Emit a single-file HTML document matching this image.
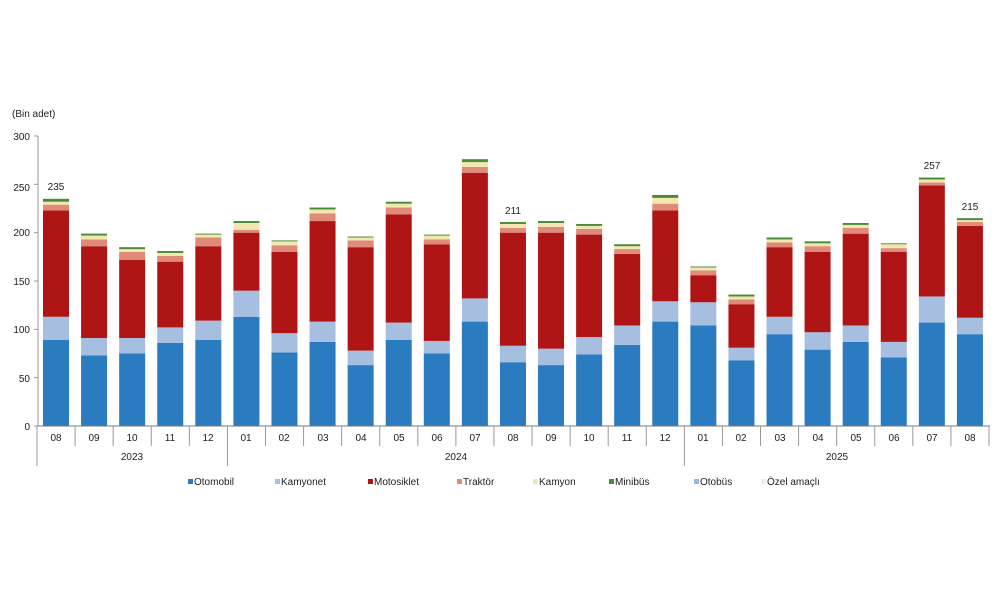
<!DOCTYPE html>
<html><head><meta charset="utf-8"><style>
body{margin:0;background:#fff;}
svg text{font-family:"Liberation Sans",sans-serif;fill:#222;}
</style></head><body>
<svg id="c" width="1000" height="593" xmlns="http://www.w3.org/2000/svg">
<text x="12" y="117" font-size="10">(Bin adet)</text>
<g font-size="10" text-anchor="end">
<text x="30" y="140">300</text><text x="30" y="191">250</text><text x="30" y="236">200</text>
<text x="30" y="285">150</text><text x="30" y="333">100</text><text x="30" y="382">50</text><text x="30" y="430">0</text>
</g>
<g id="bars"></g>
<line x1="38" y1="136" x2="38" y2="426" stroke="#999"/>
<line x1="38" y1="426" x2="990" y2="426" stroke="#777"/>
<g id="ticks" stroke="#999"></g>
<g font-size="10" text-anchor="middle">
<text x="56" y="441">08</text><text x="94" y="441">09</text><text x="132" y="441">10</text><text x="170" y="441">11</text><text x="208" y="441">12</text>
<text x="246" y="441">01</text><text x="284" y="441">02</text><text x="323" y="441">03</text><text x="361" y="441">04</text><text x="399" y="441">05</text>
<text x="437" y="441">06</text><text x="475" y="441">07</text><text x="513" y="441">08</text><text x="551" y="441">09</text><text x="589" y="441">10</text>
<text x="627" y="441">11</text><text x="665" y="441">12</text><text x="703" y="441">01</text><text x="741" y="441">02</text><text x="780" y="441">03</text>
<text x="818" y="441">04</text><text x="856" y="441">05</text><text x="894" y="441">06</text><text x="932" y="441">07</text><text x="970" y="441">08</text>
<text x="132" y="460">2023</text><text x="456" y="460">2024</text><text x="837" y="460">2025</text>
<text x="56" y="190">235</text><text x="513" y="214">211</text><text x="932" y="169">257</text><text x="970" y="210">215</text>
</g>
<g font-size="10">
<rect x="188" y="479" width="5" height="5" fill="#2a7bc0"/><text x="194" y="485">Otomobil</text>
<rect x="275" y="479" width="5" height="5" fill="#a6bfe0"/><text x="281" y="485">Kamyonet</text>
<rect x="368" y="479" width="5" height="5" fill="#b01515"/><text x="374" y="485">Motosiklet</text>
<rect x="457" y="479" width="5" height="5" fill="#e08a7a"/><text x="463" y="485">Traktör</text>
<rect x="533" y="479" width="5" height="5" fill="#f3e7b0"/><text x="539" y="485">Kamyon</text>
<rect x="609" y="479" width="5" height="5" fill="#4a8a3a"/><text x="615" y="485">Minibüs</text>
<rect x="694" y="479" width="5" height="5" fill="#9db8d8"/><text x="700" y="485">Otobüs</text>
<rect x="761" y="479" width="5" height="5" fill="#eee"/><text x="767" y="485">Özel amaçlı</text>
</g>
</svg>
<script>
var d=[[89,113,223,229,232,235],[73,91,186,193,197,199],[75,91,172,180,183,185],[86,102,170,176,179,181],[89,109,186,195,198,199],
[113,140,200,203,210,212],[76,96,180,187,191,192],[87,108,212,220,224,226],[63,78,185,192,195,196],[89,107,219,226,230,232],
[75,88,188,193,197,198],[108,132,262,268,273,276],[66,83,200,205,209,211],[63,80,200,206,210,212],[74,92,198,204,207,209],
[84,104,178,183,186,188],[108,129,223,230,236,239],[104,128,156,161,164,165],[68,81,126,131,134,136],[95,113,185,190,193,195],
[79,97,180,186,189,191],[87,104,199,205,208,210],[71,87,180,184,188,189],[107,134,249,252,255,257],[95,112,207,211,213,215]];
var col=["#2a7bc0","#a6bfe0","#b01515","#e08a7a","#f3e7b0","#4a8a3a"];
var ns="http://www.w3.org/2000/svg",g=document.getElementById("bars"),t=document.getElementById("ticks");
function Y(v){return 426-v*290/300;}
d.forEach(function(r,i){var cx=56+i*38.08,p=0;r.forEach(function(v,k){var e=document.createElementNS(ns,"rect");
e.setAttribute("x",cx-13);e.setAttribute("width",26);e.setAttribute("y",Y(v));e.setAttribute("height",Y(p)-Y(v));e.setAttribute("fill",col[k]);g.appendChild(e);p=v;});});
for(var i=0;i<=25;i++){var x=37+i*38.08;var l=document.createElementNS(ns,"line");var big=(i==0||i==5||i==17);
l.setAttribute("x1",x);l.setAttribute("x2",x);l.setAttribute("y1",426);l.setAttribute("y2",big?466:446);t.appendChild(l);}
for(var v=0;v<=300;v+=50){var l=document.createElementNS(ns,"line");l.setAttribute("x1",34);l.setAttribute("x2",38);l.setAttribute("y1",Y(v));l.setAttribute("y2",Y(v));t.appendChild(l);}
</script>
</body></html>
